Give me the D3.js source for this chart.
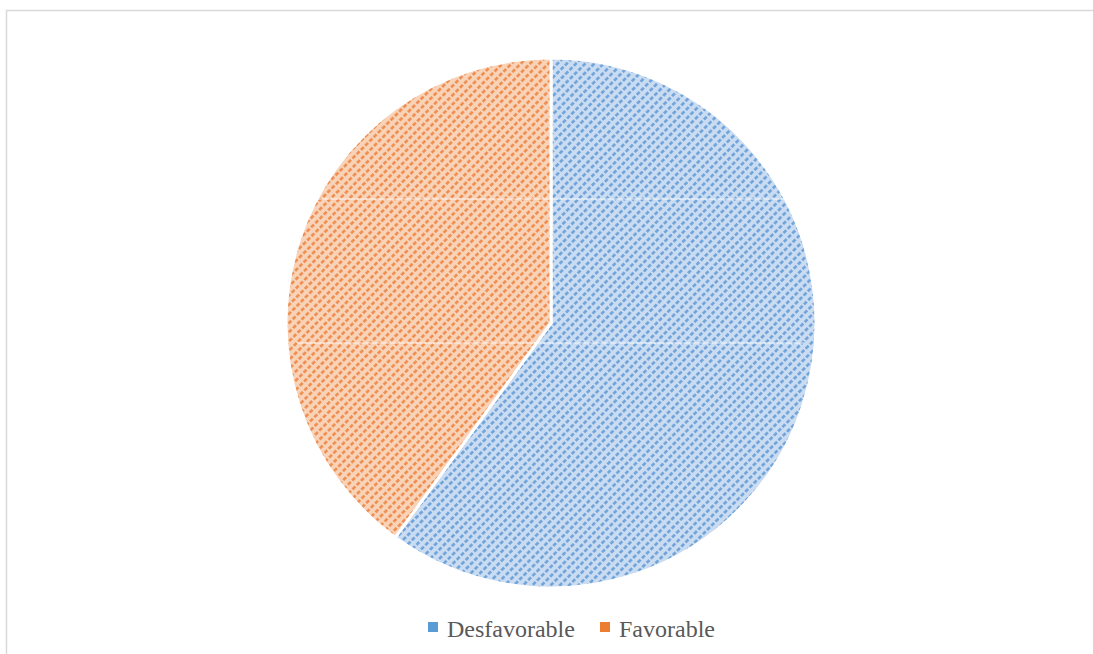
<!DOCTYPE html>
<html>
<head>
<meta charset="utf-8">
<script src="https://cdn.jsdelivr.net/npm/d3@7"></script>
<style>
  body { margin: 0; background: #fff; }
  svg { display: block; }
</style>
</head>
<body>
<svg id="chart" width="1093" height="654"></svg>
<script>
// data
const categories = ['Desfavorable', 'Favorable'];
const values = [60, 40];
const baseColors = ['#5b9bd5', '#ed7d31'];
const lightColors = ['#cadcf2', '#f9d3b8'];
const dotColors = ['#6fa2d9', '#ee8d4f'];

const width = 1093, height = 654;
const svg = d3.select('#chart');

// frame (only left and top visible in the crop)
svg.append('rect')
    .attr('x', 6.5).attr('y', 10.5)
    .attr('width', 1100).attr('height', 700)
    .attr('fill', 'none')
    .attr('stroke', '#d9d9d9')
    .attr('stroke-width', 1.5);

// hatch patterns, dotted upward diagonals
const defs = svg.append('defs');
categories.forEach((c, i) => {
    const p = defs.append('pattern')
        .attr('id', 'pat' + i)
        .attr('patternUnits', 'userSpaceOnUse')
        .attr('width', 6).attr('height', 6.5)
        .attr('patternTransform', 'rotate(-45)');
    p.append('rect').attr('width', 6).attr('height', 6.5).attr('fill', lightColors[i]);
    p.append('line')
        .attr('x1', 0).attr('x2', 6).attr('y1', 3.25).attr('y2', 3.25)
        .attr('stroke', dotColors[i])
        .attr('stroke-width', 2.6)
        .attr('stroke-dasharray', '4,2');
});

const cx = 551, cy = 323, r = 265;
const pie = d3.pie().sort(null).value(d => d);
const arc = d3.arc().innerRadius(0).outerRadius(r);

const g = svg.append('g').attr('transform', `translate(${cx},${cy})`);
g.selectAll('path')
    .data(pie(values))
    .enter()
    .append('path')
    .attr('d', arc)
    .attr('fill', (d, i) => `url(#pat${i})`)
    .attr('stroke', '#fff')
    .attr('stroke-width', 3);

// faint white lines crossing the plot (seen in the reference)
const y = d3.scaleLinear().domain([0, 1]).range([cy + 20, cy - 124]);
g.selectAll('line.grid')
    .data([0, 1])
    .enter()
    .append('line')
    .attr('class', 'grid')
    .attr('x1', -r + 12).attr('x2', r - 12)
    .attr('y1', d => y(d) - cy).attr('y2', d => y(d) - cy)
    .attr('stroke', '#fff')
    .attr('stroke-opacity', 0.8)
    .attr('stroke-width', 1.2);

// legend
const legend = svg.append('g').attr('transform', 'translate(428,629)');
const xs = [0, 172];
const item = legend.selectAll('g')
    .data(categories)
    .enter()
    .append('g')
    .attr('transform', (d, i) => `translate(${xs[i]},0)`);
item.append('rect')
    .attr('x', 0).attr('y', -7)
    .attr('width', 10).attr('height', 10)
    .attr('fill', (d, i) => baseColors[i]);
item.append('text')
    .attr('x', 19).attr('y', 8)
    .attr('font-family', '"Liberation Serif", "Times New Roman", serif')
    .attr('font-size', 24)
    .attr('fill', '#595959')
    .text(d => d);
</script>
</body>
</html>
